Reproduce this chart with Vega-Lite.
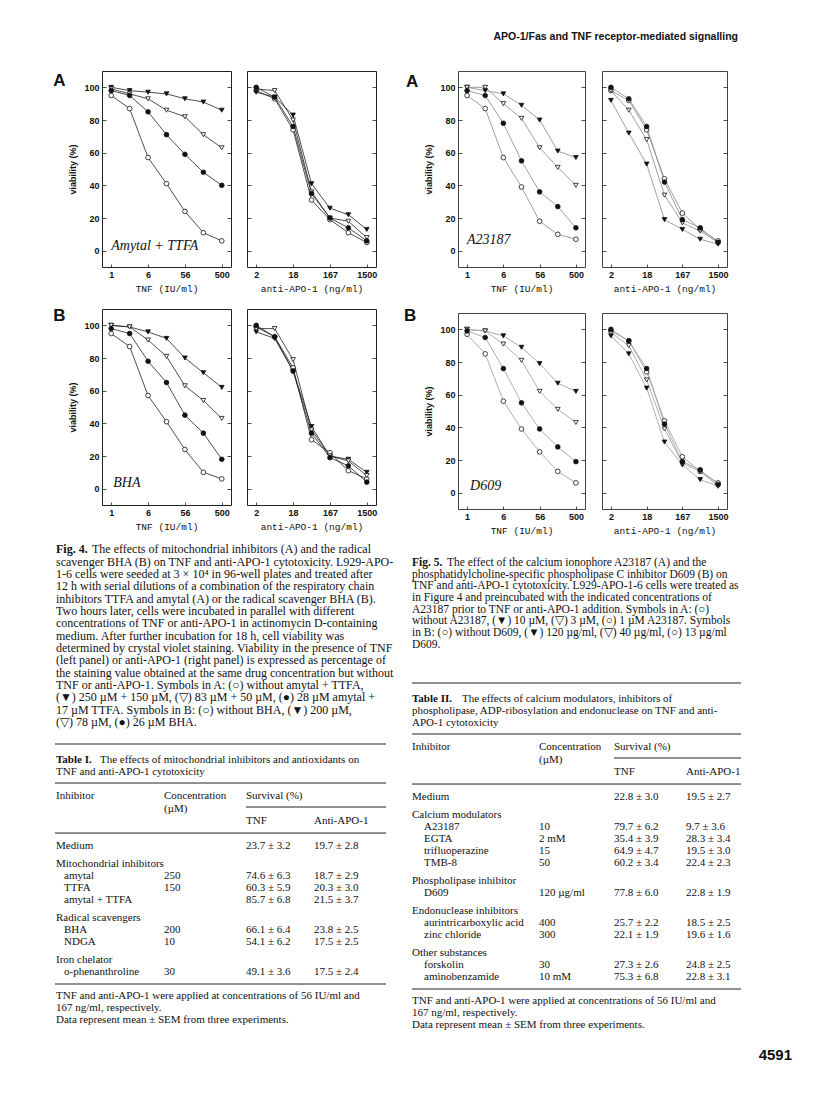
{
  "$schema": "https://vega.github.io/schema/vega-lite/v6.json",
  "background": "white",
  "padding": {"left": 52, "top": 32, "right": 0, "bottom": 0},
  "title": {"text": "APO-1/Fas and TNF receptor-mediated signalling", "anchor": "end", "font": "Liberation Sans", "fontSize": 10.5, "fontWeight": "bold", "color": "#111", "offset": 28, "dx": -60},
  "datasets": {
    "curves": [
      {"f":"4A","p":"T","s":"o","d":1,"v":95},{"f":"4A","p":"T","s":"o","d":2,"v":87},{"f":"4A","p":"T","s":"o","d":6,"v":57},{"f":"4A","p":"T","s":"o","d":18,"v":41},{"f":"4A","p":"T","s":"o","d":56,"v":24},{"f":"4A","p":"T","s":"o","d":167,"v":11},{"f":"4A","p":"T","s":"o","d":500,"v":6},
      {"f":"4A","p":"T","s":"vf","d":1,"v":100},{"f":"4A","p":"T","s":"vf","d":2,"v":98},{"f":"4A","p":"T","s":"vf","d":6,"v":97},{"f":"4A","p":"T","s":"vf","d":18,"v":96},{"f":"4A","p":"T","s":"vf","d":56,"v":93},{"f":"4A","p":"T","s":"vf","d":167,"v":91},{"f":"4A","p":"T","s":"vf","d":500,"v":86},
      {"f":"4A","p":"T","s":"vo","d":1,"v":99},{"f":"4A","p":"T","s":"vo","d":2,"v":96},{"f":"4A","p":"T","s":"vo","d":6,"v":93},{"f":"4A","p":"T","s":"vo","d":18,"v":86},{"f":"4A","p":"T","s":"vo","d":56,"v":82},{"f":"4A","p":"T","s":"vo","d":167,"v":71},{"f":"4A","p":"T","s":"vo","d":500,"v":63},
      {"f":"4A","p":"T","s":"f","d":1,"v":98},{"f":"4A","p":"T","s":"f","d":2,"v":95},{"f":"4A","p":"T","s":"f","d":6,"v":85},{"f":"4A","p":"T","s":"f","d":18,"v":71},{"f":"4A","p":"T","s":"f","d":56,"v":59},{"f":"4A","p":"T","s":"f","d":167,"v":48},{"f":"4A","p":"T","s":"f","d":500,"v":40},
      {"f":"4A","p":"A","s":"o","d":2,"v":98},{"f":"4A","p":"A","s":"o","d":6,"v":93},{"f":"4A","p":"A","s":"o","d":18,"v":74},{"f":"4A","p":"A","s":"o","d":56,"v":31},{"f":"4A","p":"A","s":"o","d":167,"v":19},{"f":"4A","p":"A","s":"o","d":500,"v":11},{"f":"4A","p":"A","s":"o","d":1500,"v":5},
      {"f":"4A","p":"A","s":"vf","d":2,"v":97},{"f":"4A","p":"A","s":"vf","d":6,"v":94},{"f":"4A","p":"A","s":"vf","d":18,"v":83},{"f":"4A","p":"A","s":"vf","d":56,"v":41},{"f":"4A","p":"A","s":"vf","d":167,"v":26},{"f":"4A","p":"A","s":"vf","d":500,"v":22},{"f":"4A","p":"A","s":"vf","d":1500,"v":13},
      {"f":"4A","p":"A","s":"vo","d":2,"v":99},{"f":"4A","p":"A","s":"vo","d":6,"v":98},{"f":"4A","p":"A","s":"vo","d":18,"v":80},{"f":"4A","p":"A","s":"vo","d":56,"v":36},{"f":"4A","p":"A","s":"vo","d":167,"v":20},{"f":"4A","p":"A","s":"vo","d":500,"v":18},{"f":"4A","p":"A","s":"vo","d":1500,"v":8},
      {"f":"4A","p":"A","s":"f","d":2,"v":100},{"f":"4A","p":"A","s":"f","d":6,"v":94},{"f":"4A","p":"A","s":"f","d":18,"v":76},{"f":"4A","p":"A","s":"f","d":56,"v":35},{"f":"4A","p":"A","s":"f","d":167,"v":20},{"f":"4A","p":"A","s":"f","d":500,"v":14},{"f":"4A","p":"A","s":"f","d":1500,"v":6},
      {"f":"4B","p":"T","s":"o","d":1,"v":95},{"f":"4B","p":"T","s":"o","d":2,"v":87},{"f":"4B","p":"T","s":"o","d":6,"v":57},{"f":"4B","p":"T","s":"o","d":18,"v":41},{"f":"4B","p":"T","s":"o","d":56,"v":24},{"f":"4B","p":"T","s":"o","d":167,"v":10},{"f":"4B","p":"T","s":"o","d":500,"v":6},
      {"f":"4B","p":"T","s":"vf","d":1,"v":100},{"f":"4B","p":"T","s":"vf","d":2,"v":99},{"f":"4B","p":"T","s":"vf","d":6,"v":96},{"f":"4B","p":"T","s":"vf","d":18,"v":92},{"f":"4B","p":"T","s":"vf","d":56,"v":80},{"f":"4B","p":"T","s":"vf","d":167,"v":71},{"f":"4B","p":"T","s":"vf","d":500,"v":62},
      {"f":"4B","p":"T","s":"vo","d":1,"v":100},{"f":"4B","p":"T","s":"vo","d":2,"v":99},{"f":"4B","p":"T","s":"vo","d":6,"v":91},{"f":"4B","p":"T","s":"vo","d":18,"v":81},{"f":"4B","p":"T","s":"vo","d":56,"v":63},{"f":"4B","p":"T","s":"vo","d":167,"v":54},{"f":"4B","p":"T","s":"vo","d":500,"v":43},
      {"f":"4B","p":"T","s":"f","d":1,"v":98},{"f":"4B","p":"T","s":"f","d":2,"v":95},{"f":"4B","p":"T","s":"f","d":6,"v":78},{"f":"4B","p":"T","s":"f","d":18,"v":65},{"f":"4B","p":"T","s":"f","d":56,"v":45},{"f":"4B","p":"T","s":"f","d":167,"v":34},{"f":"4B","p":"T","s":"f","d":500,"v":18},
      {"f":"4B","p":"A","s":"o","d":2,"v":99},{"f":"4B","p":"A","s":"o","d":6,"v":93},{"f":"4B","p":"A","s":"o","d":18,"v":74},{"f":"4B","p":"A","s":"o","d":56,"v":30},{"f":"4B","p":"A","s":"o","d":167,"v":22},{"f":"4B","p":"A","s":"o","d":500,"v":11},{"f":"4B","p":"A","s":"o","d":1500,"v":6},
      {"f":"4B","p":"A","s":"vf","d":2,"v":96},{"f":"4B","p":"A","s":"vf","d":6,"v":92},{"f":"4B","p":"A","s":"vf","d":18,"v":72},{"f":"4B","p":"A","s":"vf","d":56,"v":38},{"f":"4B","p":"A","s":"vf","d":167,"v":20},{"f":"4B","p":"A","s":"vf","d":500,"v":18},{"f":"4B","p":"A","s":"vf","d":1500,"v":10},
      {"f":"4B","p":"A","s":"vo","d":2,"v":98},{"f":"4B","p":"A","s":"vo","d":6,"v":98},{"f":"4B","p":"A","s":"vo","d":18,"v":79},{"f":"4B","p":"A","s":"vo","d":56,"v":36},{"f":"4B","p":"A","s":"vo","d":167,"v":20},{"f":"4B","p":"A","s":"vo","d":500,"v":17},{"f":"4B","p":"A","s":"vo","d":1500,"v":8},
      {"f":"4B","p":"A","s":"f","d":2,"v":100},{"f":"4B","p":"A","s":"f","d":6,"v":93},{"f":"4B","p":"A","s":"f","d":18,"v":72},{"f":"4B","p":"A","s":"f","d":56,"v":34},{"f":"4B","p":"A","s":"f","d":167,"v":19},{"f":"4B","p":"A","s":"f","d":500,"v":14},{"f":"4B","p":"A","s":"f","d":1500,"v":4},
      {"f":"5A","p":"T","s":"o","d":1,"v":95},{"f":"5A","p":"T","s":"o","d":2,"v":87},{"f":"5A","p":"T","s":"o","d":6,"v":57},{"f":"5A","p":"T","s":"o","d":18,"v":39},{"f":"5A","p":"T","s":"o","d":56,"v":18},{"f":"5A","p":"T","s":"o","d":167,"v":10},{"f":"5A","p":"T","s":"o","d":500,"v":7},
      {"f":"5A","p":"T","s":"vf","d":1,"v":100},{"f":"5A","p":"T","s":"vf","d":2,"v":98},{"f":"5A","p":"T","s":"vf","d":6,"v":96},{"f":"5A","p":"T","s":"vf","d":18,"v":89},{"f":"5A","p":"T","s":"vf","d":56,"v":80},{"f":"5A","p":"T","s":"vf","d":167,"v":61},{"f":"5A","p":"T","s":"vf","d":500,"v":57},
      {"f":"5A","p":"T","s":"vo","d":1,"v":100},{"f":"5A","p":"T","s":"vo","d":2,"v":100},{"f":"5A","p":"T","s":"vo","d":6,"v":90},{"f":"5A","p":"T","s":"vo","d":18,"v":81},{"f":"5A","p":"T","s":"vo","d":56,"v":63},{"f":"5A","p":"T","s":"vo","d":167,"v":51},{"f":"5A","p":"T","s":"vo","d":500,"v":40},
      {"f":"5A","p":"T","s":"f","d":1,"v":98},{"f":"5A","p":"T","s":"f","d":2,"v":95},{"f":"5A","p":"T","s":"f","d":6,"v":78},{"f":"5A","p":"T","s":"f","d":18,"v":55},{"f":"5A","p":"T","s":"f","d":56,"v":36},{"f":"5A","p":"T","s":"f","d":167,"v":27},{"f":"5A","p":"T","s":"f","d":500,"v":14},
      {"f":"5A","p":"A","s":"o","d":2,"v":98},{"f":"5A","p":"A","s":"o","d":6,"v":92},{"f":"5A","p":"A","s":"o","d":18,"v":74},{"f":"5A","p":"A","s":"o","d":56,"v":44},{"f":"5A","p":"A","s":"o","d":167,"v":23},{"f":"5A","p":"A","s":"o","d":500,"v":13},{"f":"5A","p":"A","s":"o","d":1500,"v":6},
      {"f":"5A","p":"A","s":"vf","d":2,"v":92},{"f":"5A","p":"A","s":"vf","d":6,"v":72},{"f":"5A","p":"A","s":"vf","d":18,"v":53},{"f":"5A","p":"A","s":"vf","d":56,"v":19},{"f":"5A","p":"A","s":"vf","d":167,"v":13},{"f":"5A","p":"A","s":"vf","d":500,"v":7},{"f":"5A","p":"A","s":"vf","d":1500,"v":4},
      {"f":"5A","p":"A","s":"vo","d":2,"v":98},{"f":"5A","p":"A","s":"vo","d":6,"v":86},{"f":"5A","p":"A","s":"vo","d":18,"v":68},{"f":"5A","p":"A","s":"vo","d":56,"v":34},{"f":"5A","p":"A","s":"vo","d":167,"v":17},{"f":"5A","p":"A","s":"vo","d":500,"v":12},{"f":"5A","p":"A","s":"vo","d":1500,"v":5},
      {"f":"5A","p":"A","s":"f","d":2,"v":100},{"f":"5A","p":"A","s":"f","d":6,"v":93},{"f":"5A","p":"A","s":"f","d":18,"v":76},{"f":"5A","p":"A","s":"f","d":56,"v":42},{"f":"5A","p":"A","s":"f","d":167,"v":19},{"f":"5A","p":"A","s":"f","d":500,"v":14},{"f":"5A","p":"A","s":"f","d":1500,"v":5},
      {"f":"5B","p":"T","s":"o","d":1,"v":97},{"f":"5B","p":"T","s":"o","d":2,"v":85},{"f":"5B","p":"T","s":"o","d":6,"v":56},{"f":"5B","p":"T","s":"o","d":18,"v":39},{"f":"5B","p":"T","s":"o","d":56,"v":25},{"f":"5B","p":"T","s":"o","d":167,"v":13},{"f":"5B","p":"T","s":"o","d":500,"v":6},
      {"f":"5B","p":"T","s":"vf","d":1,"v":100},{"f":"5B","p":"T","s":"vf","d":2,"v":99},{"f":"5B","p":"T","s":"vf","d":6,"v":96},{"f":"5B","p":"T","s":"vf","d":18,"v":89},{"f":"5B","p":"T","s":"vf","d":56,"v":79},{"f":"5B","p":"T","s":"vf","d":167,"v":67},{"f":"5B","p":"T","s":"vf","d":500,"v":62},
      {"f":"5B","p":"T","s":"vo","d":1,"v":100},{"f":"5B","p":"T","s":"vo","d":2,"v":99},{"f":"5B","p":"T","s":"vo","d":6,"v":91},{"f":"5B","p":"T","s":"vo","d":18,"v":81},{"f":"5B","p":"T","s":"vo","d":56,"v":62},{"f":"5B","p":"T","s":"vo","d":167,"v":51},{"f":"5B","p":"T","s":"vo","d":500,"v":43},
      {"f":"5B","p":"T","s":"f","d":1,"v":99},{"f":"5B","p":"T","s":"f","d":2,"v":95},{"f":"5B","p":"T","s":"f","d":6,"v":76},{"f":"5B","p":"T","s":"f","d":18,"v":55},{"f":"5B","p":"T","s":"f","d":56,"v":39},{"f":"5B","p":"T","s":"f","d":167,"v":28},{"f":"5B","p":"T","s":"f","d":500,"v":19},
      {"f":"5B","p":"A","s":"o","d":2,"v":99},{"f":"5B","p":"A","s":"o","d":6,"v":93},{"f":"5B","p":"A","s":"o","d":18,"v":74},{"f":"5B","p":"A","s":"o","d":56,"v":44},{"f":"5B","p":"A","s":"o","d":167,"v":22},{"f":"5B","p":"A","s":"o","d":500,"v":13},{"f":"5B","p":"A","s":"o","d":1500,"v":6},
      {"f":"5B","p":"A","s":"vf","d":2,"v":96},{"f":"5B","p":"A","s":"vf","d":6,"v":85},{"f":"5B","p":"A","s":"vf","d":18,"v":64},{"f":"5B","p":"A","s":"vf","d":56,"v":31},{"f":"5B","p":"A","s":"vf","d":167,"v":17},{"f":"5B","p":"A","s":"vf","d":500,"v":8},{"f":"5B","p":"A","s":"vf","d":1500,"v":4},
      {"f":"5B","p":"A","s":"vo","d":2,"v":98},{"f":"5B","p":"A","s":"vo","d":6,"v":90},{"f":"5B","p":"A","s":"vo","d":18,"v":69},{"f":"5B","p":"A","s":"vo","d":56,"v":39},{"f":"5B","p":"A","s":"vo","d":167,"v":18},{"f":"5B","p":"A","s":"vo","d":500,"v":13},{"f":"5B","p":"A","s":"vo","d":1500,"v":4},
      {"f":"5B","p":"A","s":"f","d":2,"v":100},{"f":"5B","p":"A","s":"f","d":6,"v":93},{"f":"5B","p":"A","s":"f","d":18,"v":76},{"f":"5B","p":"A","s":"f","d":56,"v":42},{"f":"5B","p":"A","s":"f","d":167,"v":19},{"f":"5B","p":"A","s":"f","d":500,"v":14},{"f":"5B","p":"A","s":"f","d":1500,"v":5}
    ],
    "cap4": [
      {"line":1,"t":"The effects of mitochondrial inhibitors (A) and the radical"},
      {"line":2,"t":"scavenger BHA (B) on TNF and anti-APO-1 cytotoxicity. L929-APO-"},
      {"line":3,"t":"1-6 cells were seeded at 3 × 10⁴ in 96-well plates and treated after"},
      {"line":4,"t":"12 h with serial dilutions of a combination of the respiratory chain"},
      {"line":5,"t":"inhibitors TTFA and amytal (A) or the radical scavenger BHA (B)."},
      {"line":6,"t":"Two hours later, cells were incubated in parallel with different"},
      {"line":7,"t":"concentrations of TNF or anti-APO-1 in actinomycin D-containing"},
      {"line":8,"t":"medium. After further incubation for 18 h, cell viability was"},
      {"line":9,"t":"determined by crystal violet staining. Viability in the presence of TNF"},
      {"line":10,"t":"(left panel) or anti-APO-1 (right panel) is expressed as percentage of"},
      {"line":11,"t":"the staining value obtained at the same drug concentration but without"},
      {"line":12,"t":"TNF or anti-APO-1. Symbols in A: (○) without amytal + TTFA,"},
      {"line":13,"t":"(▼) 250 µM + 150 µM, (▽) 83 µM + 50 µM, (●) 28 µM amytal +"},
      {"line":14,"t":"17 µM TTFA. Symbols in B: (○) without BHA, (▼) 200 µM,"},
      {"line":15,"t":"(▽) 78 µM, (●) 26 µM BHA."}
    ],
    "cap5": [
      {"line":1,"t":"The effect of the calcium ionophore A23187 (A) and the"},
      {"line":2,"t":"phosphatidylcholine-specific phospholipase C inhibitor D609 (B) on"},
      {"line":3,"t":"TNF and anti-APO-1 cytotoxicity. L929-APO-1-6 cells were treated as"},
      {"line":4,"t":"in Figure 4 and preincubated with the indicated concentrations of"},
      {"line":5,"t":"A23187 prior to TNF or anti-APO-1 addition. Symbols in A: (○)"},
      {"line":6,"t":"without A23187, (▼) 10 µM, (▽) 3 µM, (○) 1 µM A23187. Symbols"},
      {"line":7,"t":"in B: (○) without D609, (▼) 120 µg/ml, (▽) 40 µg/ml, (○) 13 µg/ml"},
      {"line":8,"t":"D609."}
    ],
    "lines1": [
      {"r":1.83,"b":"Table I.","t":"The effects of mitochondrial inhibitors and antioxidants on"},
      {"r":2.83,"t":"TNF and anti-APO-1 cytotoxicity"},
      {"r":21.5,"t":"TNF and anti-APO-1 were applied at concentrations of 56 IU/ml and"},
      {"r":22.5,"t":"167 ng/ml, respectively."},
      {"r":23.5,"t":"Data represent mean ± SEM from three experiments."}
    ],
    "tab1": [
      {"r":4.83,"lvl":0,"name":"Inhibitor","conc":"Concentration","tnf":"Survival (%)"},
      {"r":5.92,"conc":"(µM)"},
      {"r":6.92,"tnf":"TNF","apo":"Anti-APO-1"},
      {"r":9,"lvl":0,"name":"Medium","tnf":"23.7 ± 3.2","apo":"19.7 ± 2.8"},
      {"r":10.5,"lvl":0,"name":"Mitochondrial inhibitors"},
      {"r":11.5,"lvl":1,"name":"amytal","conc":"250","tnf":"74.6 ± 6.3","apo":"18.7 ± 2.9"},
      {"r":12.5,"lvl":1,"name":"TTFA","conc":"150","tnf":"60.3 ± 5.9","apo":"20.3 ± 3.0"},
      {"r":13.5,"lvl":1,"name":"amytal + TTFA","tnf":"85.7 ± 6.8","apo":"21.5 ± 3.7"},
      {"r":15,"lvl":0,"name":"Radical scavengers"},
      {"r":16,"lvl":1,"name":"BHA","conc":"200","tnf":"66.1 ± 6.4","apo":"23.8 ± 2.5"},
      {"r":17,"lvl":1,"name":"NDGA","conc":"10","tnf":"54.1 ± 6.2","apo":"17.5 ± 2.5"},
      {"r":18.5,"lvl":0,"name":"Iron chelator"},
      {"r":19.5,"lvl":1,"name":"o-phenanthroline","conc":"30","tnf":"49.1 ± 3.6","apo":"17.5 ± 2.4"}
    ],
    "rules1": [
      {"r":0.5,"k":"full"},{"r":3.75,"k":"full"},{"r":5.75,"k":"part"},{"r":7.92,"k":"full"},{"r":20.5,"k":"full"}
    ],
    "lines2": [
      {"r":1.83,"b":"Table II.","t":"The effects of calcium modulators, inhibitors of"},
      {"r":2.83,"t":"phospholipase, ADP-ribosylation and endonuclease on TNF and anti-"},
      {"r":3.83,"t":"APO-1 cytotoxicity"},
      {"r":27,"t":"TNF and anti-APO-1 were applied at concentrations of 56 IU/ml and"},
      {"r":28,"t":"167 ng/ml, respectively."},
      {"r":29,"t":"Data represent mean ± SEM from three experiments."}
    ],
    "tab2": [
      {"r":5.83,"lvl":0,"name":"Inhibitor","conc":"Concentration","tnf":"Survival (%)"},
      {"r":6.92,"conc":"(µM)"},
      {"r":7.92,"tnf":"TNF","apo":"Anti-APO-1"},
      {"r":10,"lvl":0,"name":"Medium","tnf":"22.8 ± 3.0","apo":"19.5 ± 2.7"},
      {"r":11.5,"lvl":0,"name":"Calcium modulators"},
      {"r":12.5,"lvl":1,"name":"A23187","conc":"10","tnf":"79.7 ± 6.2","apo":"9.7 ± 3.6"},
      {"r":13.5,"lvl":1,"name":"EGTA","conc":"2 mM","tnf":"35.4 ± 3.9","apo":"28.3 ± 3.4"},
      {"r":14.5,"lvl":1,"name":"trifluoperazine","conc":"15","tnf":"64.9 ± 4.7","apo":"19.5 ± 3.0"},
      {"r":15.5,"lvl":1,"name":"TMB-8","conc":"50","tnf":"60.2 ± 3.4","apo":"22.4 ± 2.3"},
      {"r":17,"lvl":0,"name":"Phospholipase inhibitor"},
      {"r":18,"lvl":1,"name":"D609","conc":"120 µg/ml","tnf":"77.8 ± 6.0","apo":"22.8 ± 1.9"},
      {"r":19.5,"lvl":0,"name":"Endonuclease inhibitors"},
      {"r":20.5,"lvl":1,"name":"aurintricarboxylic acid","conc":"400","tnf":"25.7 ± 2.2","apo":"18.5 ± 2.5"},
      {"r":21.5,"lvl":1,"name":"zinc chloride","conc":"300","tnf":"22.1 ± 1.9","apo":"19.6 ± 1.6"},
      {"r":23,"lvl":0,"name":"Other substances"},
      {"r":24,"lvl":1,"name":"forskolin","conc":"30","tnf":"27.3 ± 2.6","apo":"24.8 ± 2.5"},
      {"r":25,"lvl":1,"name":"aminobenzamide","conc":"10 mM","tnf":"75.3 ± 6.8","apo":"22.8 ± 3.1"}
    ],
    "rules2": [
      {"r":0.5,"k":"full"},{"r":4.75,"k":"full"},{"r":6.75,"k":"part"},{"r":8.92,"k":"full"},{"r":26,"k":"full"}
    ],
    "pageno": [{"r":31.5,"t":"4591"}]
  },
  "hconcat": [
    {
      "vconcat": [
        {
          "vconcat": [
            {
              "hconcat": [
                {
                  "width": 129, "height": 196,
                  "layer": [
                    {"data": {"name": "curves"}, "transform": [{"filter": "datum.f === '4A' && datum.p === 'T'"}],
                     "mark": {"type": "line", "color": "#222"},
                     "encoding": {
                       "x": {"field": "d", "type": "ordinal", "scale": {"type": "point", "padding": 0.5, "domain": [1,2,6,18,56,167,500]}, "axis": {"values": [1,6,56,500], "title": "TNF (IU/ml)"}},
                       "y": {"field": "v", "type": "quantitative", "scale": {"domain": [-10,110], "nice": false}, "axis": {"values": [0,20,40,60,80,100], "title": "viability (%)"}},
                       "detail": {"field": "s", "type": "nominal"}}},
                    {"data": {"name": "curves"}, "transform": [{"filter": "datum.f === '4A' && datum.p === 'T'"}],
                     "mark": {"type": "point", "stroke": "#111", "strokeWidth": 0.8, "size": 22, "opacity": 1},
                     "encoding": {
                       "x": {"field": "d", "type": "ordinal"},
                       "y": {"field": "v", "type": "quantitative", "axis": {"orient": "right", "values": [0,20,40,60,80,100], "labels": false, "title": null}},
                       "shape": {"field": "s", "type": "nominal", "scale": {"domain": ["o","vf","vo","f"], "range": ["circle","triangle-down","triangle-down","circle"]}, "legend": null},
                       "fill": {"field": "s", "type": "nominal", "scale": {"domain": ["o","vf","vo","f"], "range": ["#ffffff","#111111","#ffffff","#111111"]}, "legend": null}}},
                    {"data": {"values": [{"t": "Amytal + TTFA"}]}, "mark": {"type": "text", "fontStyle": "italic", "fontSize": 14},
                     "encoding": {"x": {"datum": 1, "type": "ordinal"}, "y": {"datum": 3, "type": "quantitative", "axis": null}, "text": {"field": "t"}}},
                    {"data": {"values": [{"t": "A"}]}, "mark": {"type": "text", "font": "Liberation Sans", "fontWeight": "bold", "fontSize": 17, "dx": -58},
                     "encoding": {"x": {"datum": 1, "type": "ordinal"}, "y": {"datum": 104, "type": "quantitative", "axis": null}, "text": {"field": "t"}}}
                  ],
                  "resolve": {"axis": {"y": "independent"}}
                },
                {
                  "width": 129, "height": 196,
                  "layer": [
                    {"data": {"name": "curves"}, "transform": [{"filter": "datum.f === '4A' && datum.p === 'A'"}],
                     "mark": {"type": "line", "color": "#222"},
                     "encoding": {
                       "x": {"field": "d", "type": "ordinal", "scale": {"type": "point", "padding": 0.5, "domain": [2,6,18,56,167,500,1500]}, "axis": {"values": [2,18,167,1500], "title": "anti-APO-1 (ng/ml)"}},
                       "y": {"field": "v", "type": "quantitative", "scale": {"domain": [-10,110], "nice": false}, "axis": {"values": [0,20,40,60,80,100], "labels": false, "title": null}},
                       "detail": {"field": "s", "type": "nominal"}}},
                    {"data": {"name": "curves"}, "transform": [{"filter": "datum.f === '4A' && datum.p === 'A'"}],
                     "mark": {"type": "point", "stroke": "#111", "strokeWidth": 0.8, "size": 22, "opacity": 1},
                     "encoding": {
                       "x": {"field": "d", "type": "ordinal"},
                       "y": {"field": "v", "type": "quantitative", "axis": {"orient": "right", "values": [0,20,40,60,80,100], "labels": false, "title": null}},
                       "shape": {"field": "s", "type": "nominal", "scale": {"domain": ["o","vf","vo","f"], "range": ["circle","triangle-down","triangle-down","circle"]}, "legend": null},
                       "fill": {"field": "s", "type": "nominal", "scale": {"domain": ["o","vf","vo","f"], "range": ["#ffffff","#111111","#ffffff","#111111"]}, "legend": null}}}
                  ],
                  "resolve": {"axis": {"y": "independent"}}
                }
              ],
              "spacing": 14
            },
            {
              "hconcat": [
                {
                  "width": 129, "height": 196,
                  "layer": [
                    {"data": {"name": "curves"}, "transform": [{"filter": "datum.f === '4B' && datum.p === 'T'"}],
                     "mark": {"type": "line", "color": "#222"},
                     "encoding": {
                       "x": {"field": "d", "type": "ordinal", "scale": {"type": "point", "padding": 0.5, "domain": [1,2,6,18,56,167,500]}, "axis": {"values": [1,6,56,500], "title": "TNF (IU/ml)"}},
                       "y": {"field": "v", "type": "quantitative", "scale": {"domain": [-10,110], "nice": false}, "axis": {"values": [0,20,40,60,80,100], "title": "viability (%)"}},
                       "detail": {"field": "s", "type": "nominal"}}},
                    {"data": {"name": "curves"}, "transform": [{"filter": "datum.f === '4B' && datum.p === 'T'"}],
                     "mark": {"type": "point", "stroke": "#111", "strokeWidth": 0.8, "size": 22, "opacity": 1},
                     "encoding": {
                       "x": {"field": "d", "type": "ordinal"},
                       "y": {"field": "v", "type": "quantitative", "axis": {"orient": "right", "values": [0,20,40,60,80,100], "labels": false, "title": null}},
                       "shape": {"field": "s", "type": "nominal", "scale": {"domain": ["o","vf","vo","f"], "range": ["circle","triangle-down","triangle-down","circle"]}, "legend": null},
                       "fill": {"field": "s", "type": "nominal", "scale": {"domain": ["o","vf","vo","f"], "range": ["#ffffff","#111111","#ffffff","#111111"]}, "legend": null}}},
                    {"data": {"values": [{"t": "BHA"}]}, "mark": {"type": "text", "fontStyle": "italic", "fontSize": 14, "dx": 2},
                     "encoding": {"x": {"datum": 1, "type": "ordinal"}, "y": {"datum": 3.6, "type": "quantitative", "axis": null}, "text": {"field": "t"}}},
                    {"data": {"values": [{"t": "B"}]}, "mark": {"type": "text", "font": "Liberation Sans", "fontWeight": "bold", "fontSize": 17, "dx": -58},
                     "encoding": {"x": {"datum": 1, "type": "ordinal"}, "y": {"datum": 106, "type": "quantitative", "axis": null}, "text": {"field": "t"}}}
                  ],
                  "resolve": {"axis": {"y": "independent"}}
                },
                {
                  "width": 129, "height": 196,
                  "layer": [
                    {"data": {"name": "curves"}, "transform": [{"filter": "datum.f === '4B' && datum.p === 'A'"}],
                     "mark": {"type": "line", "color": "#222"},
                     "encoding": {
                       "x": {"field": "d", "type": "ordinal", "scale": {"type": "point", "padding": 0.5, "domain": [2,6,18,56,167,500,1500]}, "axis": {"values": [2,18,167,1500], "title": "anti-APO-1 (ng/ml)"}},
                       "y": {"field": "v", "type": "quantitative", "scale": {"domain": [-10,110], "nice": false}, "axis": {"values": [0,20,40,60,80,100], "labels": false, "title": null}},
                       "detail": {"field": "s", "type": "nominal"}}},
                    {"data": {"name": "curves"}, "transform": [{"filter": "datum.f === '4B' && datum.p === 'A'"}],
                     "mark": {"type": "point", "stroke": "#111", "strokeWidth": 0.8, "size": 22, "opacity": 1},
                     "encoding": {
                       "x": {"field": "d", "type": "ordinal"},
                       "y": {"field": "v", "type": "quantitative", "axis": {"orient": "right", "values": [0,20,40,60,80,100], "labels": false, "title": null}},
                       "shape": {"field": "s", "type": "nominal", "scale": {"domain": ["o","vf","vo","f"], "range": ["circle","triangle-down","triangle-down","circle"]}, "legend": null},
                       "fill": {"field": "s", "type": "nominal", "scale": {"domain": ["o","vf","vo","f"], "range": ["#ffffff","#111111","#ffffff","#111111"]}, "legend": null}}}
                  ],
                  "resolve": {"axis": {"y": "independent"}}
                }
              ],
              "spacing": 14
            }
          ],
          "spacing": 13
        },
        {
          "vconcat": [
            {
              "width": 294, "height": 195, "view": {"stroke": null},
              "encoding": {"y": {"field": "line", "type": "quantitative", "scale": {"domain": [0.5, 16.28], "reverse": true, "nice": false, "zero": false}, "axis": null}},
              "layer": [
                {"data": {"name": "cap4"}, "transform": [{"filter": "datum.line > 1"}], "mark": {"type": "text", "fontSize": 12},
                 "encoding": {"x": {"datum": 3, "type": "quantitative", "scale": {"domain": [49, 343], "nice": false, "zero": false}, "axis": null}, "text": {"field": "t"}}},
                {"data": {"name": "cap4"}, "transform": [{"filter": "datum.line === 1"}], "mark": {"type": "text", "fontSize": 12, "dx": 36},
                 "encoding": {"x": {"datum": 3, "type": "quantitative", "axis": null}, "text": {"field": "t"}}},
                {"data": {"values": [{"line": 1, "b": "Fig. 4."}]}, "mark": {"type": "text", "fontSize": 12, "fontWeight": "bold"},
                 "encoding": {"x": {"datum": 3, "type": "quantitative", "axis": null}, "text": {"field": "b"}}}
              ]
            },
            {
              "width": 294, "height": 294, "view": {"stroke": null},
              "encoding": {"y": {"field": "r", "type": "quantitative", "scale": {"domain": [0, 24.5], "reverse": true, "nice": false, "zero": false}, "axis": null}},
              "layer": [
                {"data": {"name": "lines1"}, "transform": [{"filter": "!datum.b"}], "mark": "text",
                 "encoding": {"x": {"datum": 3, "type": "quantitative", "scale": {"domain": [49, 343], "nice": false, "zero": false}, "axis": null}, "text": {"field": "t"}}},
                {"data": {"name": "lines1"}, "transform": [{"filter": "datum.b"}], "mark": {"type": "text", "dx": 44},
                 "encoding": {"x": {"datum": 3, "type": "quantitative", "axis": null}, "text": {"field": "t"}}},
                {"data": {"name": "lines1"}, "transform": [{"filter": "datum.b"}], "mark": {"type": "text", "fontWeight": "bold"},
                 "encoding": {"x": {"datum": 3, "type": "quantitative", "axis": null}, "text": {"field": "b"}}},
                {"data": {"name": "tab1"}, "transform": [{"filter": "datum.lvl === 0"}], "mark": "text",
                 "encoding": {"x": {"datum": 3, "type": "quantitative", "axis": null}, "text": {"field": "name"}}},
                {"data": {"name": "tab1"}, "transform": [{"filter": "datum.lvl === 1"}], "mark": "text",
                 "encoding": {"x": {"datum": 11, "type": "quantitative", "axis": null}, "text": {"field": "name"}}},
                {"data": {"name": "tab1"}, "transform": [{"filter": "isValid(datum.conc)"}], "mark": "text",
                 "encoding": {"x": {"datum": 111, "type": "quantitative", "axis": null}, "text": {"field": "conc"}}},
                {"data": {"name": "tab1"}, "transform": [{"filter": "isValid(datum.tnf)"}], "mark": "text",
                 "encoding": {"x": {"datum": 193, "type": "quantitative", "axis": null}, "text": {"field": "tnf"}}},
                {"data": {"name": "tab1"}, "transform": [{"filter": "isValid(datum.apo)"}], "mark": "text",
                 "encoding": {"x": {"datum": 261, "type": "quantitative", "axis": null}, "text": {"field": "apo"}}},
                {"data": {"name": "rules1"}, "transform": [{"filter": "datum.k === 'full'"}], "mark": {"type": "rule", "color": "#222", "strokeWidth": 1},
                 "encoding": {"x": {"datum": 2, "type": "quantitative", "axis": null}, "x2": {"datum": 333}}},
                {"data": {"name": "rules1"}, "transform": [{"filter": "datum.k === 'part'"}], "mark": {"type": "rule", "color": "#222", "strokeWidth": 1},
                 "encoding": {"x": {"datum": 193, "type": "quantitative", "axis": null}, "x2": {"datum": 333}}}
              ]
            }
          ],
          "spacing": 0
        }
      ],
      "spacing": 12
    },
    {
      "vconcat": [
        {
          "vconcat": [
            {
              "hconcat": [
                {
                  "width": 127, "height": 196, "view": {"stroke": "#444"},
                  "layer": [
                    {"data": {"name": "curves"}, "transform": [{"filter": "datum.f === '5A' && datum.p === 'T'"}],
                     "mark": {"type": "line", "color": "#888"},
                     "encoding": {
                       "x": {"field": "d", "type": "ordinal", "scale": {"type": "point", "padding": 0.5, "domain": [1,2,6,18,56,167,500]}, "axis": {"values": [1,6,56,500], "title": "TNF (IU/ml)"}},
                       "y": {"field": "v", "type": "quantitative", "scale": {"domain": [-10,110], "nice": false}, "axis": {"values": [0,20,40,60,80,100], "title": "viability (%)"}},
                       "detail": {"field": "s", "type": "nominal"}}},
                    {"data": {"name": "curves"}, "transform": [{"filter": "datum.f === '5A' && datum.p === 'T'"}],
                     "mark": {"type": "point", "stroke": "#111", "strokeWidth": 0.8, "size": 22, "opacity": 1},
                     "encoding": {
                       "x": {"field": "d", "type": "ordinal"},
                       "y": {"field": "v", "type": "quantitative", "axis": {"orient": "right", "values": [0,20,40,60,80,100], "labels": false, "title": null}},
                       "shape": {"field": "s", "type": "nominal", "scale": {"domain": ["o","vf","vo","f"], "range": ["circle","triangle-down","triangle-down","circle"]}, "legend": null},
                       "fill": {"field": "s", "type": "nominal", "scale": {"domain": ["o","vf","vo","f"], "range": ["#ffffff","#111111","#ffffff","#111111"]}, "legend": null}}},
                    {"data": {"values": [{"t": "A23187"}]}, "mark": {"type": "text", "fontStyle": "italic", "fontSize": 14},
                     "encoding": {"x": {"datum": 1, "type": "ordinal"}, "y": {"datum": 6.7, "type": "quantitative", "axis": null}, "text": {"field": "t"}}},
                    {"data": {"values": [{"t": "A"}]}, "mark": {"type": "text", "font": "Liberation Sans", "fontWeight": "bold", "fontSize": 17, "dx": -61},
                     "encoding": {"x": {"datum": 1, "type": "ordinal"}, "y": {"datum": 103, "type": "quantitative", "axis": null}, "text": {"field": "t"}}}
                  ],
                  "resolve": {"axis": {"y": "independent"}}
                },
                {
                  "width": 125, "height": 196, "view": {"stroke": "#444"},
                  "layer": [
                    {"data": {"name": "curves"}, "transform": [{"filter": "datum.f === '5A' && datum.p === 'A'"}],
                     "mark": {"type": "line", "color": "#888"},
                     "encoding": {
                       "x": {"field": "d", "type": "ordinal", "scale": {"type": "point", "padding": 0.5, "domain": [2,6,18,56,167,500,1500]}, "axis": {"values": [2,18,167,1500], "title": "anti-APO-1 (ng/ml)"}},
                       "y": {"field": "v", "type": "quantitative", "scale": {"domain": [-10,110], "nice": false}, "axis": {"values": [0,20,40,60,80,100], "labels": false, "title": null}},
                       "detail": {"field": "s", "type": "nominal"}}},
                    {"data": {"name": "curves"}, "transform": [{"filter": "datum.f === '5A' && datum.p === 'A'"}],
                     "mark": {"type": "point", "stroke": "#111", "strokeWidth": 0.8, "size": 22, "opacity": 1},
                     "encoding": {
                       "x": {"field": "d", "type": "ordinal"},
                       "y": {"field": "v", "type": "quantitative", "axis": {"orient": "right", "values": [0,20,40,60,80,100], "labels": false, "title": null}},
                       "shape": {"field": "s", "type": "nominal", "scale": {"domain": ["o","vf","vo","f"], "range": ["circle","triangle-down","triangle-down","circle"]}, "legend": null},
                       "fill": {"field": "s", "type": "nominal", "scale": {"domain": ["o","vf","vo","f"], "range": ["#ffffff","#111111","#ffffff","#111111"]}, "legend": null}}}
                  ],
                  "resolve": {"axis": {"y": "independent"}}
                }
              ],
              "spacing": 15
            },
            {
              "hconcat": [
                {
                  "width": 127, "height": 196, "view": {"stroke": "#444"},
                  "layer": [
                    {"data": {"name": "curves"}, "transform": [{"filter": "datum.f === '5B' && datum.p === 'T'"}],
                     "mark": {"type": "line", "color": "#999"},
                     "encoding": {
                       "x": {"field": "d", "type": "ordinal", "scale": {"type": "point", "padding": 0.5, "domain": [1,2,6,18,56,167,500]}, "axis": {"values": [1,6,56,500], "title": "TNF (IU/ml)"}},
                       "y": {"field": "v", "type": "quantitative", "scale": {"domain": [-10,110], "nice": false}, "axis": {"values": [0,20,40,60,80,100], "title": "viability (%)"}},
                       "detail": {"field": "s", "type": "nominal"}}},
                    {"data": {"name": "curves"}, "transform": [{"filter": "datum.f === '5B' && datum.p === 'T'"}],
                     "mark": {"type": "point", "stroke": "#111", "strokeWidth": 0.8, "size": 22, "opacity": 1},
                     "encoding": {
                       "x": {"field": "d", "type": "ordinal"},
                       "y": {"field": "v", "type": "quantitative", "axis": {"orient": "right", "values": [0,20,40,60,80,100], "labels": false, "title": null}},
                       "shape": {"field": "s", "type": "nominal", "scale": {"domain": ["o","vf","vo","f"], "range": ["circle","triangle-down","triangle-down","circle"]}, "legend": null},
                       "fill": {"field": "s", "type": "nominal", "scale": {"domain": ["o","vf","vo","f"], "range": ["#ffffff","#111111","#ffffff","#111111"]}, "legend": null}}},
                    {"data": {"values": [{"t": "D609"}]}, "mark": {"type": "text", "fontStyle": "italic", "fontSize": 14, "dx": 3},
                     "encoding": {"x": {"datum": 1, "type": "ordinal"}, "y": {"datum": 4.3, "type": "quantitative", "axis": null}, "text": {"field": "t"}}},
                    {"data": {"values": [{"t": "B"}]}, "mark": {"type": "text", "font": "Liberation Sans", "fontWeight": "bold", "fontSize": 17, "dx": -63},
                     "encoding": {"x": {"datum": 1, "type": "ordinal"}, "y": {"datum": 108, "type": "quantitative", "axis": null}, "text": {"field": "t"}}}
                  ],
                  "resolve": {"axis": {"y": "independent"}}
                },
                {
                  "width": 125, "height": 196, "view": {"stroke": "#444"},
                  "layer": [
                    {"data": {"name": "curves"}, "transform": [{"filter": "datum.f === '5B' && datum.p === 'A'"}],
                     "mark": {"type": "line", "color": "#999"},
                     "encoding": {
                       "x": {"field": "d", "type": "ordinal", "scale": {"type": "point", "padding": 0.5, "domain": [2,6,18,56,167,500,1500]}, "axis": {"values": [2,18,167,1500], "title": "anti-APO-1 (ng/ml)"}},
                       "y": {"field": "v", "type": "quantitative", "scale": {"domain": [-10,110], "nice": false}, "axis": {"values": [0,20,40,60,80,100], "labels": false, "title": null}},
                       "detail": {"field": "s", "type": "nominal"}}},
                    {"data": {"name": "curves"}, "transform": [{"filter": "datum.f === '5B' && datum.p === 'A'"}],
                     "mark": {"type": "point", "stroke": "#111", "strokeWidth": 0.8, "size": 22, "opacity": 1},
                     "encoding": {
                       "x": {"field": "d", "type": "ordinal"},
                       "y": {"field": "v", "type": "quantitative", "axis": {"orient": "right", "values": [0,20,40,60,80,100], "labels": false, "title": null}},
                       "shape": {"field": "s", "type": "nominal", "scale": {"domain": ["o","vf","vo","f"], "range": ["circle","triangle-down","triangle-down","circle"]}, "legend": null},
                       "fill": {"field": "s", "type": "nominal", "scale": {"domain": ["o","vf","vo","f"], "range": ["#ffffff","#111111","#ffffff","#111111"]}, "legend": null}}}
                  ],
                  "resolve": {"axis": {"y": "independent"}}
                }
              ],
              "spacing": 15
            }
          ],
          "spacing": 13
        },
        {
          "vconcat": [
            {
              "width": 340, "height": 120, "view": {"stroke": null},
              "encoding": {"y": {"field": "line", "type": "quantitative", "scale": {"domain": [0.5, 10.76], "reverse": true, "nice": false, "zero": false}, "axis": null}},
              "layer": [
                {"data": {"name": "cap5"}, "transform": [{"filter": "datum.line > 1"}], "mark": {"type": "text", "fontSize": 11.5},
                 "encoding": {"x": {"datum": 7, "type": "quantitative", "scale": {"domain": [53, 393], "nice": false, "zero": false}, "axis": null}, "text": {"field": "t"}}},
                {"data": {"name": "cap5"}, "transform": [{"filter": "datum.line === 1"}], "mark": {"type": "text", "fontSize": 11.5, "dx": 35},
                 "encoding": {"x": {"datum": 7, "type": "quantitative", "axis": null}, "text": {"field": "t"}}},
                {"data": {"values": [{"line": 1, "b": "Fig. 5."}]}, "mark": {"type": "text", "fontSize": 11.5, "fontWeight": "bold"},
                 "encoding": {"x": {"datum": 7, "type": "quantitative", "axis": null}, "text": {"field": "b"}}}
              ]
            },
            {
              "width": 340, "height": 390, "view": {"stroke": null},
              "encoding": {"y": {"field": "r", "type": "quantitative", "scale": {"domain": [0, 32.5], "reverse": true, "nice": false, "zero": false}, "axis": null}},
              "layer": [
                {"data": {"name": "lines2"}, "transform": [{"filter": "!datum.b"}], "mark": "text",
                 "encoding": {"x": {"datum": 7, "type": "quantitative", "scale": {"domain": [53, 393], "nice": false, "zero": false}, "axis": null}, "text": {"field": "t"}}},
                {"data": {"name": "lines2"}, "transform": [{"filter": "datum.b"}], "mark": {"type": "text", "dx": 50},
                 "encoding": {"x": {"datum": 7, "type": "quantitative", "axis": null}, "text": {"field": "t"}}},
                {"data": {"name": "lines2"}, "transform": [{"filter": "datum.b"}], "mark": {"type": "text", "fontWeight": "bold"},
                 "encoding": {"x": {"datum": 7, "type": "quantitative", "axis": null}, "text": {"field": "b"}}},
                {"data": {"name": "tab2"}, "transform": [{"filter": "datum.lvl === 0"}], "mark": "text",
                 "encoding": {"x": {"datum": 7, "type": "quantitative", "axis": null}, "text": {"field": "name"}}},
                {"data": {"name": "tab2"}, "transform": [{"filter": "datum.lvl === 1"}], "mark": "text",
                 "encoding": {"x": {"datum": 19, "type": "quantitative", "axis": null}, "text": {"field": "name"}}},
                {"data": {"name": "tab2"}, "transform": [{"filter": "isValid(datum.conc)"}], "mark": "text",
                 "encoding": {"x": {"datum": 134, "type": "quantitative", "axis": null}, "text": {"field": "conc"}}},
                {"data": {"name": "tab2"}, "transform": [{"filter": "isValid(datum.tnf)"}], "mark": "text",
                 "encoding": {"x": {"datum": 209, "type": "quantitative", "axis": null}, "text": {"field": "tnf"}}},
                {"data": {"name": "tab2"}, "transform": [{"filter": "isValid(datum.apo)"}], "mark": "text",
                 "encoding": {"x": {"datum": 281, "type": "quantitative", "axis": null}, "text": {"field": "apo"}}},
                {"data": {"name": "rules2"}, "transform": [{"filter": "datum.k === 'full'"}], "mark": {"type": "rule", "color": "#222", "strokeWidth": 1},
                 "encoding": {"x": {"datum": 7, "type": "quantitative", "axis": null}, "x2": {"datum": 336}}},
                {"data": {"name": "rules2"}, "transform": [{"filter": "datum.k === 'part'"}], "mark": {"type": "rule", "color": "#222", "strokeWidth": 1},
                 "encoding": {"x": {"datum": 209, "type": "quantitative", "axis": null}, "x2": {"datum": 336}}},
                {"data": {"name": "pageno"}, "mark": {"type": "text", "font": "Liberation Sans", "fontWeight": "bold", "fontSize": 15, "align": "right"},
                 "encoding": {"x": {"datum": 387, "type": "quantitative", "axis": null}, "text": {"field": "t"}}}
              ]
            }
          ],
          "spacing": 0
        }
      ],
      "spacing": 21
    }
  ],
  "spacing": 7,
  "config": {
    "view": {"stroke": "#222", "strokeWidth": 1},
    "axis": {"grid": false, "domain": false, "tickSize": -4, "tickColor": "#222", "tickWidth": 0.8, "labelPadding": 7, "labelFont": "Liberation Sans", "labelFontWeight": "bold", "labelFontSize": 9, "labelColor": "#111", "titleFont": "Liberation Mono", "titleFontWeight": "normal", "titleFontSize": 9.5, "titleColor": "#111", "labelAngle": 0},
    "axisY": {"titleFont": "Liberation Sans", "titleFontWeight": "bold", "titleFontSize": 9, "titlePadding": 6},
    "axisX": {"tickSize": -3, "labelPadding": 6, "titlePadding": 4},
    "text": {"font": "Liberation Serif", "fontSize": 11, "color": "#111", "align": "left", "baseline": "middle"},
    "line": {"strokeWidth": 0.8},
    "point": {"opacity": 1}
  }
}
